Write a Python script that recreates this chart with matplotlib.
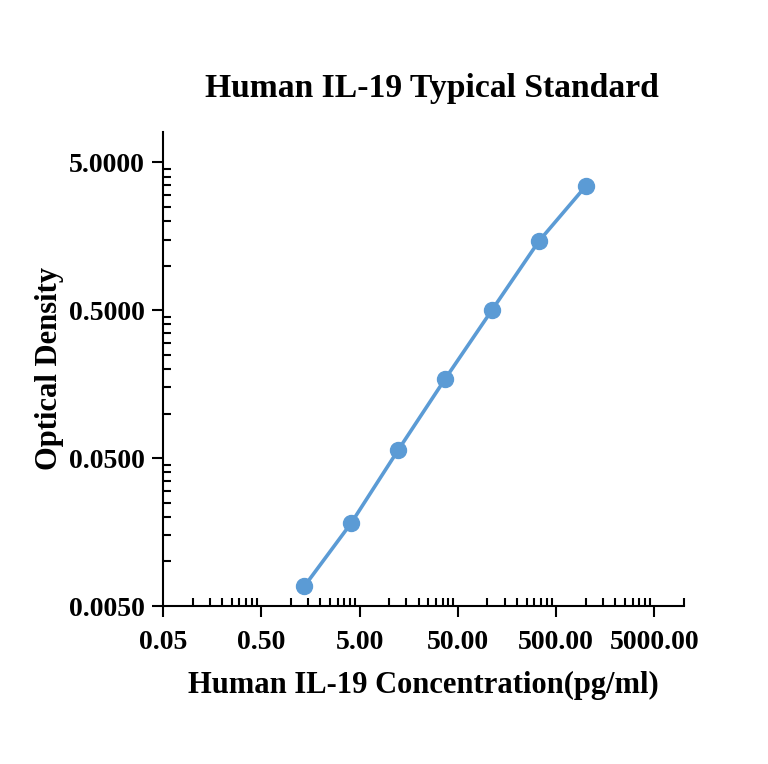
import matplotlib
matplotlib.use("Agg")
import matplotlib.pyplot as plt
from matplotlib.ticker import FixedLocator, NullFormatter

conc = [1.372, 4.115, 12.35, 37.04, 111.1, 333.3, 1000.0]
od = [0.0068, 0.0182, 0.0566, 0.171, 0.50, 1.46, 3.44]
xticks = [0.05, 0.5, 5, 50, 500, 5000]
xticklabels = ["0.05", "0.50", "5.00", "50.00", "500.00", "5000.00"]
yticks = [0.005, 0.05, 0.5, 5.0]
yticklabels = ["0.0050", "0.0500", "0.5000", "5.0000"]
title = "Human IL-19 Typical Standard"
xlabel = "Human IL-19 Concentration(pg/ml)"
ylabel = "Optical Density"

plt.rcParams['font.family'] = ['Liberation Serif', 'DejaVu Serif']
plt.rcParams['font.weight'] = 'bold'

W, H = 768, 764
fig = plt.figure(figsize=(W/100, H/100), dpi=100)
ax = fig.add_axes([163/W, 1-606/H, (684-163)/W, (606-132)/H])

color = "#5B9BD5"
ax.plot(conc, od, color=color, lw=2.6, marker='o', ms=11.5, mec=color, mfc=color, zorder=3)

ax.set_xscale('log')
ax.set_yscale('log')
ax.set_xlim(0.05, 10000)
ax.set_ylim(0.005, 8.0)

for s in ['top', 'right']:
    ax.spines[s].set_visible(False)
for s in ['left', 'bottom']:
    ax.spines[s].set_linewidth(1.5)

ax.xaxis.set_major_locator(FixedLocator(xticks))
ax.set_xticklabels(xticklabels)
ax.yaxis.set_major_locator(FixedLocator(yticks))
ax.set_yticklabels(yticklabels)

xminor = [b * k for b in xticks for k in range(2, 10) if b * k <= 10000 * 1.0001]
yminor = [b * k for b in yticks for k in range(2, 10) if b * k <= 8.0]
ax.xaxis.set_minor_locator(FixedLocator(xminor))
ax.yaxis.set_minor_locator(FixedLocator(yminor))
ax.xaxis.set_minor_formatter(NullFormatter())
ax.yaxis.set_minor_formatter(NullFormatter())

ax.tick_params(which='major', direction='out', length=8, width=1.5, labelsize=20)
ax.tick_params(axis='x', which='major', pad=9)
ax.tick_params(axis='y', which='major', pad=5)
ax.tick_params(which='minor', direction='in', length=6, width=1.5)
for lab in ax.get_xticklabels() + ax.get_yticklabels():
    lab.set_fontweight('bold')

fig.text(432/W, 1-97/H, title, fontsize=24.2, fontweight='bold', ha='center', va='baseline')
ax.set_xlabel(xlabel, fontsize=22, fontweight='bold', labelpad=12)
ax.set_ylabel(ylabel, fontsize=22, fontweight='bold', labelpad=4)

fig.savefig("out.png", dpi=100)
